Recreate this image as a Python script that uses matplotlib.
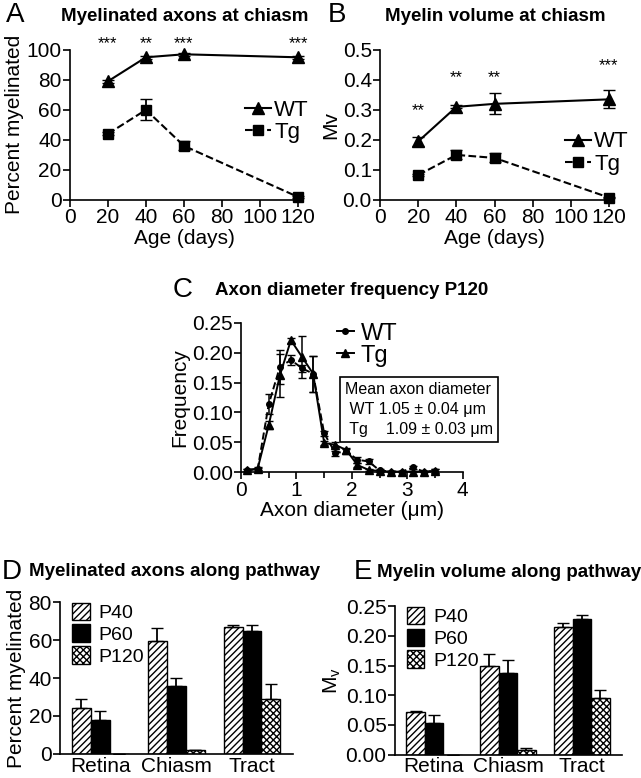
import matplotlib
matplotlib.use("Agg")
import matplotlib.pyplot as plt
from matplotlib.lines import Line2D
import numpy as np

plt.rcParams['font.family'] = ['Liberation Sans', 'DejaVu Sans']
plt.rcParams['hatch.linewidth'] = 1.0

# --- panel A / B data ---
age = [20, 40, 60, 120]
myel_wt = [79, 95, 97, 95]
myel_wt_err = [1, 1, 1, 1]
myel_tg = [44, 60, 36, 2]
myel_tg_err = [1, 7, 3, 0.5]
myel_stars = ["***", "**", "***", "***"]
myel_star_y = [104, 104, 104, 104]

mv_wt = [0.195, 0.31, 0.32, 0.335]
mv_wt_err = [0.015, 0.005, 0.035, 0.03]
mv_tg = [0.083, 0.15, 0.14, 0.008]
mv_tg_err = [0.003, 0.015, 0.015, 0.003]
mv_stars = ["**", "**", "**", "***"]
mv_star_y = [0.298, 0.407, 0.407, 0.447]

# --- panel C data ---
diam = [0.1, 0.3, 0.5, 0.7, 0.9, 1.1, 1.3, 1.5, 1.7, 1.9, 2.1, 2.3, 2.5, 2.7, 2.9, 3.1, 3.3, 3.5]
freq_wt = [0.003, 0.005, 0.114, 0.176, 0.188, 0.174, 0.165, 0.065, 0.032, 0.035, 0.021, 0.018, 0.003, 0.001, 0.001, 0.008, 0.001, 0.002]
freq_wt_err = [0.002, 0.002, 0.017, 0.028, 0.008, 0.006, 0.03, 0.004, 0.004, 0.004, 0.005, 0.004, 0.002, 0.001, 0.001, 0.002, 0.001, 0.003]
freq_tg = [0.004, 0.006, 0.079, 0.162, 0.221, 0.193, 0.165, 0.049, 0.046, 0.037, 0.012, 0.004, 0.002, 0.001, 0.001, 0.001, 0.001, 0.002]
freq_tg_err = [0.002, 0.002, 0.006, 0.036, 0.004, 0.035, 0.03, 0.004, 0.004, 0.004, 0.004, 0.002, 0.001, 0.001, 0.001, 0.001, 0.001, 0.003]

# --- panel D / E data ---
regions = ["Retina", "Chiasm", "Tract"]
ages_bar = ["P40", "P60", "P120"]
pct_vals = [[24, 59.5, 67], [18, 36, 65], [0, 2, 29]]
pct_errs = [[5, 7, 1], [4.5, 4, 3], [0, 0.3, 8]]
vol_vals = [[0.071, 0.149, 0.215], [0.054, 0.138, 0.228], [0.0, 0.008, 0.096]]
vol_errs = [[0.003, 0.02, 0.006], [0.013, 0.021, 0.007], [0.0, 0.003, 0.012]]

TICK = 15
fig = plt.figure(figsize=(6.41, 7.78), dpi=100)


def style(ax, size=TICK):
    for s in ("top", "right"):
        ax.spines[s].set_visible(False)
    ax.spines["left"].set_linewidth(1.2)
    ax.spines["bottom"].set_linewidth(1.2)
    ax.tick_params(direction="out", width=1.2, length=5, labelsize=size, pad=1)


def line_panel(rect, wt, wt_err, tg, tg_err, stars, star_y, ylim, yticks, ylabel, fmt, leg_anchor):
    ax = fig.add_axes(rect)
    ax.errorbar(age, wt, yerr=wt_err, color="black", marker="^", ms=8, lw=1.5,
                capsize=4, elinewidth=1.3, clip_on=False)
    ax.errorbar(age, tg, yerr=tg_err, color="black", marker="s", ms=7, lw=1.5, ls="--",
                capsize=4, elinewidth=1.3, clip_on=False)
    for x, s, y in zip(age, stars, star_y):
        ax.text(x, y, s, ha="center", va="center", fontsize=12)
    ax.set_xlim(0, 120)
    ax.set_ylim(*ylim)
    ax.set_xticks([0, 20, 40, 60, 80, 100, 120])
    ax.set_yticks(yticks)
    ax.yaxis.set_major_formatter(plt.FormatStrFormatter(fmt))
    ax.set_xlabel("Age (days)", fontsize=TICK, labelpad=1)
    ax.set_ylabel(ylabel, fontsize=TICK, labelpad=2)
    style(ax)
    handles = [Line2D([], [], color="black", marker="^", ms=8, lw=1.5),
               Line2D([], [], color="black", marker="s", ms=7, lw=1.5, ls="--")]
    ax.legend(handles, ["WT", "Tg"], loc="upper left", bbox_to_anchor=leg_anchor,
              frameon=False, fontsize=16, handlelength=1.15, handletextpad=0.15,
              labelspacing=0.05, borderpad=0)
    return ax


axA = line_panel([0.109, 0.743, 0.356, 0.193], myel_wt, myel_wt_err, myel_tg, myel_tg_err,
                 myel_stars, myel_star_y, (0, 100), [0, 20, 40, 60, 80, 100],
                 "Percent myelinated", "%d", (0.72, 0.74))
axB = line_panel([0.593, 0.743, 0.357, 0.193], mv_wt, mv_wt_err, mv_tg, mv_tg_err,
                 mv_stars, mv_star_y, (0, 0.5), [0, 0.1, 0.2, 0.3, 0.4, 0.5],
                 "Mv", "%.1f", (0.76, 0.53))

# panel C
axC = fig.add_axes([0.376, 0.393, 0.346, 0.192])
axC.errorbar(diam, freq_wt, yerr=freq_wt_err, color="black", marker="o", ms=4, lw=1.4, ls="--",
             capsize=3, elinewidth=1.1, clip_on=False)
axC.errorbar(diam, freq_tg, yerr=freq_tg_err, color="black", marker="^", ms=6, lw=1.4,
             capsize=3, elinewidth=1.1, clip_on=False)
axC.set_xlim(0, 4)
axC.set_ylim(0, 0.25)
axC.set_xticks([0, 1, 2, 3, 4])
axC.set_xticks([0.5, 1.5, 2.5, 3.5], minor=True)
axC.set_yticks([0, 0.05, 0.10, 0.15, 0.20, 0.25])
axC.yaxis.set_major_formatter(plt.FormatStrFormatter("%.2f"))
axC.set_xlabel("Axon diameter (\u03bcm)", fontsize=TICK, labelpad=1)
axC.set_ylabel("Frequency", fontsize=TICK, labelpad=2)
style(axC)
axC.tick_params(which="minor", direction="out", width=1.2, length=4)
c_handles = [Line2D([], [], color="black", marker="o", ms=4, lw=1.4),
             Line2D([], [], color="black", marker="^", ms=6, lw=1.4)]
axC.legend(c_handles, ["WT", "Tg"], loc="upper left", bbox_to_anchor=(0.38, 1.08),
           frameon=False, fontsize=17, handlelength=0.7, handletextpad=0.3,
           labelspacing=0.0, borderpad=0)
axC.text(0.47, 0.42, "Mean axon diameter\n WT 1.05 \u00b1 0.04 \u03bcm\n Tg    1.09 \u00b1 0.03 \u03bcm",
         transform=axC.transAxes, fontsize=11.5, va="center", ha="left", linespacing=1.45,
         bbox=dict(boxstyle="square,pad=0.3", fc="white", ec="black", lw=1.2))


def bar_panel(rect, vals, errs, ylim, yticks, ylabel, fmt):
    ax = fig.add_axes(rect)
    x = np.arange(len(regions))
    w = 0.25
    styles = [dict(color="white", edgecolor="black", hatch="/////"),
              dict(color="black", edgecolor="black"),
              dict(color="white", edgecolor="black", hatch="xxxxx")]
    for i, (lab, v, e, st) in enumerate(zip(ages_bar, vals, errs, styles)):
        ax.bar(x + (i - 1) * w, v, w, label=lab, lw=1.0, **st)
        ax.errorbar(x + (i - 1) * w, v, yerr=[np.zeros(len(e)), e], fmt="none",
                    ecolor="black", capsize=4, elinewidth=1.3)
    ax.set_xlim(-0.53, 2.54)
    ax.set_ylim(*ylim)
    ax.set_xticks(x)
    ax.set_xticklabels(regions)
    ax.set_yticks(yticks)
    ax.yaxis.set_major_formatter(plt.FormatStrFormatter(fmt))
    ax.set_ylabel(ylabel, fontsize=TICK, labelpad=2)
    style(ax)
    ax.tick_params(axis="x", length=0, pad=2)
    ax.legend(loc="upper left", bbox_to_anchor=(0.01, 1.06), frameon=False, fontsize=14,
              handlelength=0.9, handleheight=1.0, handletextpad=0.45, labelspacing=0.12,
              borderpad=0)
    return ax


axD = bar_panel([0.094, 0.031, 0.363, 0.195], pct_vals, pct_errs, (0, 80), [0, 20, 40, 60, 80],
                "Percent myelinated", "%d")
axE = bar_panel([0.616, 0.030, 0.354, 0.191], vol_vals, vol_errs, (0, 0.25),
                [0, 0.05, 0.10, 0.15, 0.20, 0.25], "M$_\\mathregular{v}$", "%.2f")

# panel letters and titles
letters = [("A", 0.010, 0.981), ("B", 0.512, 0.981), ("C", 0.270, 0.627),
           ("D", 0.002, 0.265), ("E", 0.552, 0.265)]
for s, x, y in letters:
    fig.text(x, y, s, fontsize=20, va="center", ha="left")

titles = [("Myelinated axons at chiasm", 0.288, 0.979),
          ("Myelin volume at chiasm", 0.772, 0.979),
          ("Axon diameter frequency P120", 0.549, 0.626),
          ("Myelinated axons along pathway", 0.272, 0.265),
          ("Myelin volume along pathway", 0.794, 0.264)]
for s, x, y in titles:
    fig.text(x, y, s, fontsize=13.5, fontweight="bold", va="center", ha="center")

fig.savefig("out.png", dpi=100)
